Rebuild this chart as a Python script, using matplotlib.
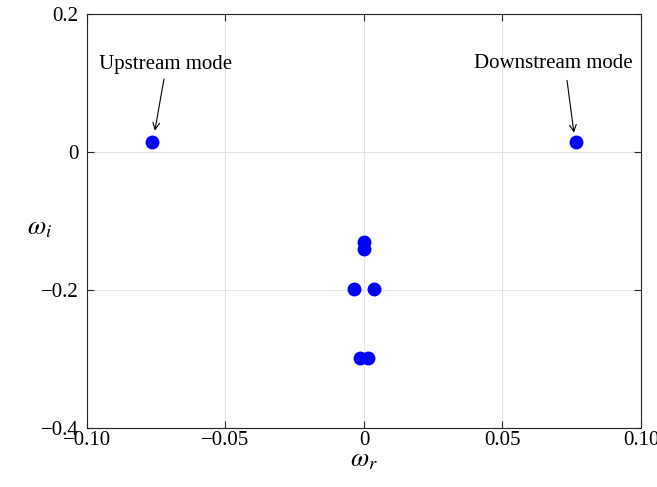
import numpy as np
import matplotlib
matplotlib.use("Agg")
import matplotlib.pyplot as plt

plt.rcParams["font.family"] = ["Liberation Serif", "DejaVu Serif"]
plt.rcParams["mathtext.fontset"] = "stix"

# eigenvalues
omega_r = [-0.0765, 0.0765, 0.0, 0.0, -0.0035, 0.0035, -0.0015, 0.0015]
omega_i = [0.015, 0.015, -0.130, -0.140, -0.198, -0.198, -0.298, -0.298]

xticks = [-0.10, -0.05, 0, 0.05, 0.10]
xticklabels = ["\u22120.10", "\u22120.05", "0", "0.05", "0.10"]
yticks = [-0.4, -0.2, 0, 0.2]
yticklabels = ["\u22120.4", "\u22120.2", "0", "0.2"]

fig = plt.figure(figsize=(6.57, 4.87), dpi=100)
ax = fig.add_axes([0.1324, 0.1211, 0.8432, 0.8500])

ax.plot(omega_r, omega_i, "o", color="#0000ff", ms=9, ls="none", zorder=3)

ax.set_xlim(-0.1, 0.1)
ax.set_ylim(-0.4, 0.2)
ax.set_xticks(xticks)
ax.set_xticklabels(xticklabels)
ax.set_yticks(yticks)
ax.set_yticklabels(yticklabels)
ax.tick_params(direction="in", top=True, right=True, labelsize=15,
               length=5, width=0.8, color="#262626")
ax.tick_params(axis="x", pad=2)
ax.tick_params(axis="y", pad=6)
ax.grid(True, color="#e3e3e3", lw=0.8)
ax.set_axisbelow(True)
for s in ax.spines.values():
    s.set_color("#262626")
    s.set_linewidth(0.8)

ax.set_xlabel(r"$\omega_r$", fontsize=19, labelpad=0)
ax.set_ylabel(r"$\omega_i$", fontsize=19, rotation=0)
ax.yaxis.set_label_coords(-0.085, 0.455)

# labels with arrows pointing at the two near-neutral modes
ax.text(-0.0718, 0.127, "Upstream mode", ha="center", va="center", fontsize=15)
ax.text(0.0682, 0.129, "Downstream mode", ha="center", va="center", fontsize=15)
arrow = dict(arrowstyle="->", color="black", lw=0.8, shrinkA=0, shrinkB=0,
             mutation_scale=12)
ax.annotate("", xy=(omega_r[0] + 0.001, omega_i[0] + 0.016),
            xytext=(omega_r[0] + 0.0043, omega_i[0] + 0.091), arrowprops=arrow)
ax.annotate("", xy=(omega_r[1] - 0.0007, omega_i[1] + 0.013),
            xytext=(omega_r[1] - 0.0032, omega_i[1] + 0.089), arrowprops=arrow)

fig.savefig("out.png", dpi=100)
